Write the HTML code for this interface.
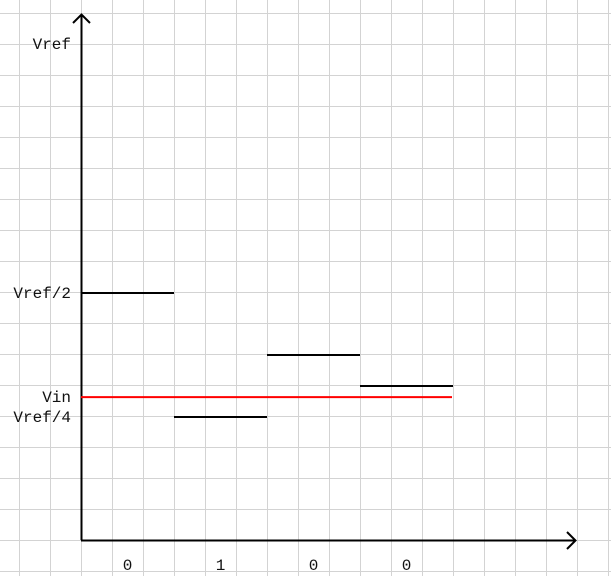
<!DOCTYPE html>
<html><head><meta charset="utf-8"><style>
body{margin:0;background:#fff}
svg{display:block}
text{font-family:"Liberation Mono","Noto Sans CJK SC",monospace;font-size:16px;fill:#111}
</style></head><body>
<svg id="c" width="611" height="576"></svg>
<script>
const stepValues=[0.5,0.25,0.375,0.3125];
const bits=["0","1","0","0"];
const vin=0.29;
const yLabels=["Vref","Vref/2","Vin","Vref/4"];
const yLabelVals=[1,0.5,0.29,0.25];
const svg=document.getElementById('c');
const NS='http://www.w3.org/2000/svg';
function y(v){return 541-v*496;}
function x(i){return 81+i*93;}
function el(t,a,p){const e=document.createElementNS(NS,t);for(const k in a)e.setAttribute(k,a[k]);(p||svg).appendChild(e);return e;}
const grid=el('g',{});


for(let gx=19.5;gx<611;gx+=31)el('line',{x1:gx,y1:0,x2:gx,y2:576,stroke:'#d3d3d3','stroke-width':1},grid);
for(let gy=13.5;gy<576;gy+=31)el('line',{x1:0,y1:gy,x2:611,y2:gy,stroke:'#d3d3d3','stroke-width':1},grid);
const ya=el('path',{d:'M81.5 540 V15 M73 23 L81.5 14.5 L90 23',stroke:'#000','stroke-width':2,fill:'none'});


const xa=el('path',{d:'M81 540.5 H575 M567 532 L575.5 540.5 L567 549',stroke:'#000','stroke-width':2,fill:'none'});


stepValues.forEach((v,i)=>{
  const l=el('line',{x1:x(i),y1:y(v),x2:x(i+1),y2:y(v),stroke:'#000','stroke-width':2});
  
  
});
const r=el('line',{x1:81,y1:y(vin),x2:452,y2:y(vin),stroke:'#f00','stroke-width':2});


yLabels.forEach((s,i)=>{
  let yy=y(yLabelVals[i])+5;
  if(s==='Vref')yy=49;
  const t=el('text',{x:71,y:yy,'text-anchor':'end'});t.textContent=s;
  
  
});
bits.forEach((b,i)=>{
  const t=el('text',{x:x(i)+46.5,y:570,'text-anchor':'middle'});t.textContent=b;
  
  
});
</script>
</body></html>
